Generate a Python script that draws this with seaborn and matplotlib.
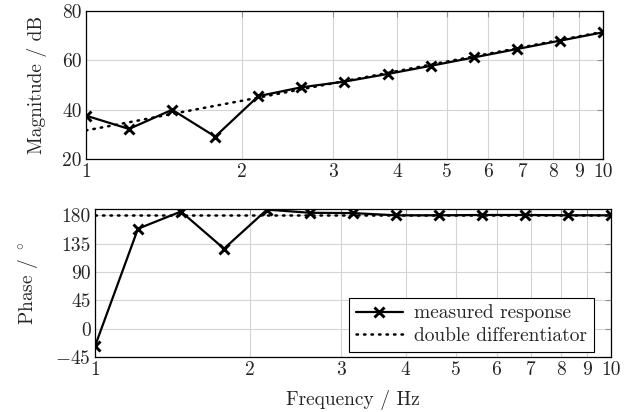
import numpy as np
import matplotlib
matplotlib.use("Agg")
import matplotlib.pyplot as plt
import seaborn as sns
import pandas as pd
from matplotlib.ticker import FixedLocator, FixedFormatter, NullLocator

# Data
freq = [1.0, 1.2115, 1.4678, 1.7783, 2.1544, 2.6102, 3.1623,
        3.8312, 4.6416, 5.6234, 6.8129, 8.2540, 10.0]
mag_meas = [37.6, 32.2, 40.0, 29.1, 45.5, 49.1, 51.4,
            54.5, 57.8, 61.2, 64.6, 68.0, 71.4]
mag_model = [31.6, 34.9, 38.3, 41.6, 44.9, 48.3, 51.6,
             54.9, 58.3, 61.6, 64.9, 68.3, 71.6]
phase_meas = [-28, 158.7, 186, 127, 189, 184, 183.5,
              180, 180, 180.5, 180.5, 180, 180]
phase_model = [180] * 13

xticks = [1, 2, 3, 4, 5, 6, 7, 8, 9, 10]
mag_ticks = [20, 40, 60, 80]
phase_ticks = [-45, 0, 45, 90, 135, 180]

df = pd.DataFrame({"freq": freq, "mag": mag_meas, "mag_model": mag_model,
                   "phase": phase_meas, "phase_model": phase_model})

sns.set_style("white")
plt.rcParams['font.family'] = ['cmr10', 'DejaVu Serif']
plt.rcParams['mathtext.fontset'] = 'cm'
plt.rcParams['axes.formatter.use_mathtext'] = True
FS = 14

fig = plt.figure(figsize=(6.34, 4.12), dpi=100)
ax1 = fig.add_axes([0.1356, 0.614, 0.951 - 0.1356, 0.973 - 0.614])
ax2 = fig.add_axes([0.1498, 0.1335, 0.9637 - 0.1498, 0.4927 - 0.1335])

grid_kw = dict(color='#d4d4d4', linewidth=0.8)
meas_kw = dict(color='black', linewidth=1.6, marker='x', markersize=6.5,
               markeredgewidth=2.1, markeredgecolor='black')
model_kw = dict(color='black', linewidth=1.8, linestyle=(0, (0.6, 2.4)),
                dash_capstyle='round')


def style_axis(ax, yticks, ylim):
    ax.set_xscale('log')
    ax.set_xlim(1, 10)
    ax.set_ylim(*ylim)
    ax.xaxis.set_major_locator(FixedLocator(xticks))
    ax.xaxis.set_major_formatter(FixedFormatter([str(t) for t in xticks]))
    ax.xaxis.set_minor_locator(NullLocator())
    ax.set_yticks(yticks)
    ax.set_yticklabels([f"${t}$" if t < 0 else str(t) for t in yticks])
    ax.grid(True, **grid_kw)
    ax.set_axisbelow(True)
    ax.tick_params(direction='in', length=4, width=0.8, color='#909090',
                   top=True, right=True, labelsize=FS, pad=3)
    for s in ax.spines.values():
        s.set_color('black')
        s.set_linewidth(0.9)


# Magnitude
sns.lineplot(data=df, x="freq", y="mag_model", ax=ax1, **model_kw)
sns.lineplot(data=df, x="freq", y="mag", ax=ax1, **meas_kw)
style_axis(ax1, mag_ticks, (20, 80))
ax1.set_xlabel("")
ax1.set_ylabel("Magnitude / dB", fontsize=FS, labelpad=11)

# Phase
sns.lineplot(data=df, x="freq", y="phase_model", ax=ax2,
             label="double differentiator", **model_kw)
sns.lineplot(data=df, x="freq", y="phase", ax=ax2,
             label="measured response", **meas_kw)
style_axis(ax2, phase_ticks, (-45, 190))
ax2.set_xlabel("Frequency / Hz", fontsize=FS, labelpad=8)
ax2.set_ylabel(r"Phase / $^\circ$", fontsize=FS, labelpad=11)

handles, labels = ax2.get_legend_handles_labels()
leg = ax2.legend(handles[::-1], labels[::-1], loc='lower right',
                 bbox_to_anchor=(0.967, 0.034), fontsize=FS, frameon=True,
                 fancybox=False, edgecolor='black', framealpha=1,
                 handlelength=2.4, borderpad=0.35, labelspacing=0.25,
                 handletextpad=0.6, borderaxespad=0)
leg.get_frame().set_linewidth(0.8)

plt.savefig("out.png", dpi=100)
